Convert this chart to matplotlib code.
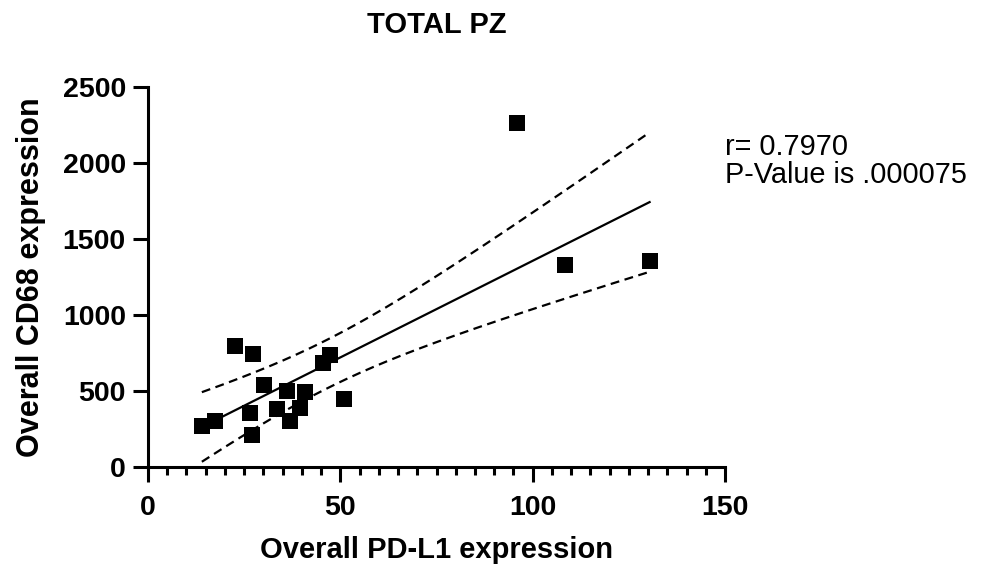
import numpy as np
import matplotlib
matplotlib.use("Agg")
import matplotlib.pyplot as plt
from matplotlib.ticker import MultipleLocator

plt.rcParams['font.family'] = ['Liberation Sans', 'DejaVu Sans']

# data
pdl1 = [14.0, 17.3, 22.5, 27.4, 30.1, 26.4, 27.1, 33.6, 36.2, 36.8, 39.6, 40.9, 45.6, 47.2, 51.0, 96.0, 108.3, 130.4]
cd68 = [274, 303, 794, 741, 540, 358, 215, 386, 500, 303, 388, 493, 684, 737, 447, 2262, 1329, 1353]
title = "TOTAL PZ"
xlabel = "Overall PD-L1 expression"
ylabel = "Overall CD68 expression"
annot = ["r= 0.7970", "P-Value is .000075"]

x = np.array(pdl1, float)
y = np.array(cd68, float)
n = len(x)
b, a = np.polyfit(x, y, 1)
xs = np.linspace(x.min(), x.max(), 200)
fit = a + b * xs
resid = y - (a + b * x)
s = np.sqrt(np.sum(resid**2) / (n - 2))
sxx = np.sum((x - x.mean())**2)
t = 2.12  # t(0.975, 16)
se = s * np.sqrt(1 / n + (xs - x.mean())**2 / sxx)
lo, hi = fit - t * se, fit + t * se

fig = plt.figure(figsize=(9.86, 5.70), dpi=100)
ax = fig.add_axes([0.1501, 0.1802, 0.5852, 0.6677])

ax.plot(xs, fit, color='black', lw=1.6, zorder=2)
ax.plot(xs, lo, color='black', lw=1.6, ls=(0, (4, 2.5)), zorder=2)
ax.plot(xs, hi, color='black', lw=1.6, ls=(0, (4, 2.5)), zorder=2)
ax.scatter(x, y, marker='s', s=140, color='black', zorder=3, linewidths=0)

ax.set_xlim(0, 150)
ax.set_ylim(0, 2500)
ax.xaxis.set_major_locator(MultipleLocator(50))
ax.xaxis.set_minor_locator(MultipleLocator(5))
ax.yaxis.set_major_locator(MultipleLocator(500))

for side in ['top', 'right']:
    ax.spines[side].set_visible(False)
for side in ['left', 'bottom']:
    ax.spines[side].set_linewidth(2.2)
    ax.spines[side].set_capstyle('projecting')

ax.tick_params(axis='both', which='major', length=11, width=2.2, labelsize=20.5)
ax.tick_params(axis='x', which='major', pad=9)
ax.tick_params(axis='y', which='major', pad=5)
ax.tick_params(axis='x', which='minor', length=6, width=2.2)
for lbl in ax.get_xticklabels() + ax.get_yticklabels():
    lbl.set_fontweight('bold')

ax.set_xlabel(xlabel, fontsize=21, fontweight='bold', labelpad=11)
ax.set_ylabel(ylabel, fontsize=22, fontweight='bold', labelpad=12)
ax.set_title(title, fontsize=21, fontweight='bold', pad=39)

fig.text(725 / 986, 1 - 147 / 570, annot[0], fontsize=20.8, va='center', ha='left')
fig.text(725 / 986, 1 - 175 / 570, annot[1], fontsize=20.8, va='center', ha='left')

fig.savefig('out.png', dpi=100)
